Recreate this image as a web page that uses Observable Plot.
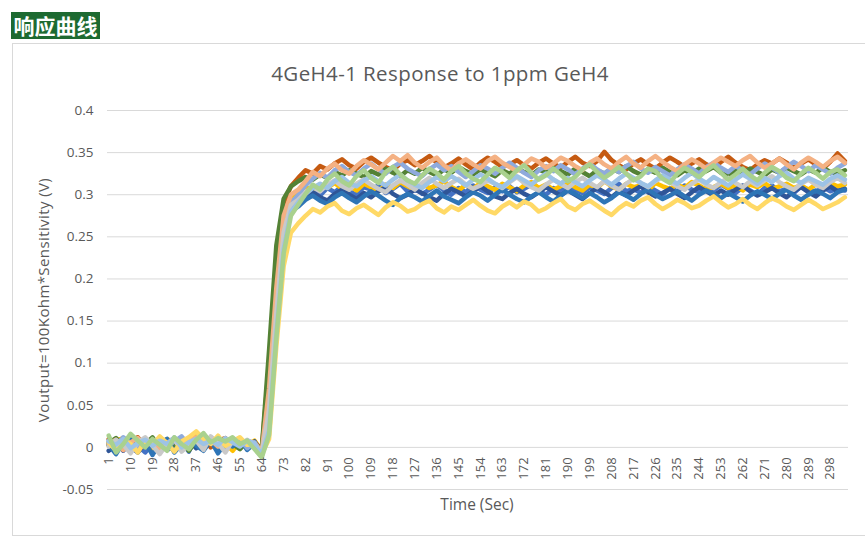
<!DOCTYPE html>
<html>
<head>
<meta charset="utf-8">
<script src="https://cdn.jsdelivr.net/npm/d3@7"></script>
<script src="https://cdn.jsdelivr.net/npm/@observablehq/plot@0.6"></script>
<style>
  html, body { margin: 0; padding: 0; background: #fff; }
  #wrap { position: relative; width: 865px; height: 538px; overflow: hidden; font-family: "Open Sans", "Noto Sans", sans-serif; }
  #tag { position: absolute; left: 11px; top: 12px; width: 89px; height: 27px; background: #1d6a31; color: #fff;
         font-family: "Noto Sans CJK SC", sans-serif; font-weight: bold; font-size: 21px; line-height: 27px; text-align: center; }
  #frame { position: absolute; left: 12px; top: 43px; width: 880px; height: 493px; border: 1px solid #d9d9d9; box-sizing: border-box; }
  #chart { position: absolute; left: 0; top: 0; }
  #title { position: absolute; left: 0; width: 880px; top: 59px; text-align: center; font-size: 20.5px; letter-spacing: 0.4px; color: #595959; line-height: 28px; }
  #ylab { position: absolute; left: 43px; top: 300px; transform: translate(-50%, -50%) rotate(-90deg); white-space: nowrap; font-size: 15px; letter-spacing: 0.4px; color: #595959; }
  #xlab { position: absolute; left: 377px; width: 200px; top: 494px; text-align: center; font-size: 15.5px; color: #595959; line-height: 20px; }
  #err { position: absolute; left: 300px; top: 20px; color: red; font-size: 14px; }
</style>
</head>
<body>
<div id="wrap">
  <div id="frame"></div>
  <div id="chart"></div>
  <div id="tag">响应曲线</div>
  <div id="title">4GeH4-1 Response to 1ppm GeH4</div>
  <div id="ylab">Voutput=100Kohm*Sensitivity (V)</div>
  <div id="xlab">Time (Sec)</div>
  <div id="err"></div>
</div>
<script>
// time (sec) of each sampled point
const times = [1,4,7,10,13,16,19,22,25,28,31,34,37,40,43,46,49,52,55,58,61,64,67,70,73,76,79,82,85,88,91,94,97,100,103,106,109,112,115,118,121,124,127,130,133,136,139,142,145,148,151,154,157,160,163,166,169,172,175,178,181,184,187,190,193,196,199,202,205,208,211,214,217,220,223,226,229,232,235,238,241,244,247,250,253,256,259,262,265,268,271,274,277,280,283,286,289,292,295,298,301,304];

const xTicks = [1,10,19,28,37,46,55,64,73,82,91,100,109,118,127,136,145,154,163,172,181,190,199,208,217,226,235,244,253,262,271,280,289,298];
const yTicks = [-0.05,0,0.05,0.1,0.15,0.2,0.25,0.3,0.35,0.4];

const seriesNames = ["S1","S2","S3","S4","S5","S6","S7","S8","S9","S10","S11","S12"];
const seriesColors = ["#4472c4","#ffc000","#c55a11","#2f5597","#548235","#2e75b6","#8faadc","#f4b183","#c9c9c9","#ffd966","#9dc3e6","#a9d18e"];

const s1 = [0.006,0.010,-0.004,0.008,0.002,-0.006,0.004,0.009,-0.003,0.001,0.007,-0.005,0.012,0.004,0.009,-0.002,0.006,0.010,0.000,0.005,0.003,
-0.007,0.060,0.180,0.262,0.290,
0.298,0.302,0.305,0.299,0.308,0.303,0.310,0.304,0.300,0.309,
0.306,0.311,0.302,0.307,0.313,0.304,0.309,0.301,0.306,0.312,
0.305,0.300,0.308,0.303,0.311,0.306,0.302,0.309,0.304,0.310,
0.303,0.307,0.312,0.305,0.300,0.308,0.304,0.311,0.306,0.302,
0.309,0.305,0.301,0.308,0.313,0.304,0.307,0.302,0.310,0.305,
0.300,0.308,0.304,0.311,0.306,0.303,0.309,0.305,0.312,0.307,
0.302,0.309,0.305,0.300,0.308,0.311,0.304,0.307,0.302,0.310,
0.306,0.303,0.309,0.304,0.308,0.305];

const s2 = [0.002,0.008,0.011,-0.002,0.005,0.009,-0.005,0.003,0.010,0.006,-0.003,0.004,0.015,0.009,0.002,0.011,0.005,-0.004,0.007,0.003,0.008,
-0.004,0.075,0.195,0.272,0.298,
0.304,0.309,0.306,0.312,0.308,0.314,0.307,0.311,0.305,0.313,
0.309,0.304,0.312,0.308,0.315,0.310,0.306,0.313,0.308,0.311,
0.316,0.309,0.305,0.312,0.307,0.314,0.310,0.306,0.313,0.309,
0.304,0.311,0.315,0.308,0.312,0.306,0.310,0.314,0.309,0.305,
0.312,0.308,0.316,0.310,0.306,0.313,0.309,0.311,0.305,0.314,
0.310,0.307,0.312,0.308,0.315,0.311,0.306,0.309,0.313,0.308,
0.311,0.305,0.312,0.309,0.314,0.307,0.310,0.313,0.308,0.311,
0.306,0.312,0.309,0.314,0.310,0.312];

const s3 = [0.010,0.004,-0.003,0.007,0.012,0.001,0.008,-0.004,0.005,0.011,0.002,0.009,0.006,0.013,0.000,0.008,0.011,0.003,0.009,0.004,0.006,
-0.003,0.100,0.225,0.290,0.310,
0.320,0.329,0.325,0.334,0.330,0.337,0.342,0.335,0.331,0.339,
0.344,0.338,0.333,0.329,0.337,0.341,0.335,0.340,0.346,0.338,
0.332,0.337,0.343,0.336,0.330,0.338,0.344,0.339,0.333,0.336,
0.341,0.335,0.331,0.338,0.343,0.337,0.332,0.339,0.345,0.338,
0.334,0.340,0.351,0.341,0.335,0.330,0.337,0.342,0.336,0.331,
0.338,0.344,0.339,0.333,0.337,0.342,0.336,0.332,0.339,0.345,
0.338,0.333,0.329,0.336,0.341,0.337,0.343,0.338,0.332,0.337,
0.342,0.336,0.331,0.339,0.349,0.340];

const s4 = [-0.004,0.003,0.008,0.001,-0.006,0.005,0.010,0.002,-0.002,0.007,0.003,0.009,-0.001,0.006,0.011,0.004,-0.003,0.008,0.005,0.001,0.007,
-0.008,0.055,0.170,0.255,0.285,
0.290,0.298,0.303,0.297,0.293,0.301,0.306,0.300,0.295,0.302,
0.297,0.304,0.309,0.301,0.296,0.300,0.306,0.302,0.297,0.293,
0.301,0.307,0.303,0.298,0.304,0.310,0.304,0.298,0.295,0.302,
0.307,0.301,0.297,0.303,0.309,0.304,0.299,0.305,0.300,0.295,
0.302,0.308,0.303,0.297,0.304,0.299,0.305,0.310,0.303,0.298,
0.302,0.307,0.301,0.296,0.303,0.309,0.304,0.299,0.305,0.300,
0.306,0.311,0.304,0.299,0.303,0.308,0.302,0.297,0.304,0.309,
0.303,0.298,0.305,0.310,0.304,0.307];

const s5 = [0.005,0.011,0.002,-0.003,0.009,0.004,0.012,-0.001,0.006,0.003,0.010,-0.004,0.008,0.014,0.005,0.001,0.009,0.004,-0.002,0.007,0.004,
-0.002,0.115,0.240,0.295,0.310,
0.316,0.321,0.318,0.324,0.320,0.327,0.323,0.329,0.325,0.321,
0.328,0.324,0.331,0.326,0.322,0.329,0.325,0.332,0.327,0.323,
0.330,0.326,0.333,0.328,0.324,0.330,0.326,0.322,0.329,0.325,
0.331,0.327,0.323,0.330,0.326,0.332,0.328,0.324,0.331,0.327,
0.322,0.329,0.325,0.331,0.327,0.334,0.328,0.324,0.330,0.326,
0.332,0.327,0.323,0.329,0.325,0.331,0.328,0.333,0.326,0.322,
0.329,0.325,0.331,0.327,0.323,0.330,0.326,0.332,0.328,0.324,
0.330,0.326,0.332,0.327,0.325,0.329];

const s6 = [0.003,-0.008,0.006,0.012,0.001,0.007,-0.009,0.005,0.010,-0.006,0.004,0.011,0.002,-0.004,0.008,-0.007,0.005,0.001,0.010,-0.003,0.005,
-0.010,0.040,0.155,0.245,0.280,
0.286,0.294,0.299,0.293,0.289,0.297,0.302,0.296,0.291,0.298,
0.304,0.299,0.293,0.288,0.296,0.301,0.297,0.292,0.299,0.305,
0.298,0.294,0.290,0.297,0.303,0.299,0.293,0.300,0.306,0.300,
0.295,0.291,0.298,0.303,0.297,0.292,0.299,0.305,0.301,0.296,
0.302,0.297,0.291,0.296,0.303,0.299,0.294,0.301,0.306,0.300,
0.295,0.299,0.304,0.298,0.293,0.300,0.305,0.301,0.296,0.302,
0.297,0.292,0.299,0.304,0.300,0.295,0.301,0.306,0.299,0.294,
0.300,0.305,0.301,0.296,0.303,0.306];

const s7 = [0.008,0.002,0.012,0.005,-0.002,0.009,0.004,0.011,0.001,0.007,0.013,0.003,0.009,0.006,0.012,0.002,0.008,0.005,0.010,-0.001,0.006,
-0.006,0.030,0.150,0.250,0.290,
0.300,0.311,0.319,0.326,0.320,0.329,0.334,0.327,0.323,0.331,
0.337,0.330,0.325,0.333,0.338,0.331,0.326,0.322,0.330,0.336,
0.329,0.334,0.327,0.321,0.328,0.335,0.331,0.325,0.332,0.338,
0.332,0.326,0.321,0.329,0.334,0.328,0.335,0.330,0.324,0.331,
0.337,0.330,0.325,0.332,0.327,0.334,0.339,0.331,0.326,0.333,
0.328,0.323,0.330,0.336,0.331,0.325,0.333,0.338,0.332,0.327,
0.334,0.329,0.324,0.331,0.337,0.332,0.326,0.333,0.339,0.334,
0.328,0.335,0.330,0.325,0.332,0.337];

const s8 = [0.004,0.009,-0.003,0.006,0.011,0.002,0.008,-0.002,0.005,0.010,0.003,0.007,0.012,0.004,0.009,0.001,0.006,0.011,0.003,0.008,0.005,
-0.005,0.070,0.190,0.275,0.300,
0.306,0.316,0.327,0.322,0.331,0.337,0.329,0.325,0.334,0.341,
0.336,0.330,0.338,0.346,0.340,0.347,0.338,0.332,0.339,0.344,
0.335,0.329,0.337,0.342,0.336,0.331,0.340,0.345,0.338,0.333,
0.328,0.336,0.343,0.339,0.332,0.337,0.344,0.340,0.334,0.329,
0.338,0.343,0.336,0.331,0.339,0.345,0.337,0.332,0.340,0.346,
0.339,0.333,0.328,0.336,0.342,0.337,0.331,0.338,0.344,0.339,
0.334,0.341,0.346,0.338,0.332,0.337,0.343,0.336,0.330,0.338,
0.344,0.339,0.333,0.340,0.345,0.338];

const s9 = [0.001,0.009,0.003,-0.007,0.006,0.012,0.002,-0.008,0.004,0.010,-0.005,0.003,0.008,-0.003,0.013,0.005,-0.006,0.008,0.002,0.009,0.003,
-0.007,0.045,0.160,0.255,0.288,
0.294,0.303,0.309,0.304,0.312,0.317,0.310,0.306,0.313,0.318,
0.312,0.307,0.303,0.311,0.317,0.312,0.306,0.314,0.320,0.313,
0.308,0.314,0.319,0.312,0.307,0.311,0.317,0.313,0.308,0.315,
0.321,0.314,0.309,0.305,0.312,0.318,0.313,0.308,0.315,0.320,
0.314,0.309,0.316,0.311,0.306,0.313,0.319,0.314,0.309,0.316,
0.321,0.315,0.310,0.306,0.313,0.318,0.312,0.308,0.315,0.320,
0.314,0.309,0.316,0.311,0.317,0.322,0.315,0.310,0.306,0.313,
0.318,0.312,0.308,0.315,0.320,0.314];

const s10 = [0.006,-0.004,0.009,0.004,-0.006,0.008,0.003,0.013,0.005,-0.005,0.007,0.012,0.019,0.010,0.004,0.014,0.002,0.007,0.012,0.003,0.004,
-0.008,0.010,0.120,0.215,0.255,
0.266,0.275,0.283,0.279,0.286,0.290,0.281,0.277,0.284,0.288,
0.282,0.276,0.285,0.291,0.287,0.280,0.283,0.289,0.293,0.284,
0.279,0.286,0.282,0.288,0.294,0.287,0.281,0.278,0.286,0.291,
0.285,0.292,0.288,0.280,0.284,0.290,0.295,0.286,0.282,0.289,
0.293,0.287,0.281,0.276,0.284,0.290,0.286,0.293,0.297,0.289,
0.283,0.288,0.294,0.290,0.284,0.287,0.293,0.298,0.291,0.285,
0.289,0.295,0.288,0.283,0.290,0.296,0.292,0.286,0.282,0.288,
0.294,0.289,0.283,0.287,0.291,0.297];

const s11 = [0.007,0.003,0.010,-0.001,0.005,0.009,0.002,0.008,0.004,0.012,0.000,0.006,0.010,0.004,0.008,0.003,0.011,0.006,0.001,0.008,0.005,
-0.009,0.020,0.135,0.235,0.280,
0.291,0.301,0.308,0.313,0.308,0.316,0.321,0.314,0.310,0.317,
0.322,0.316,0.311,0.318,0.324,0.317,0.312,0.308,0.315,0.321,
0.316,0.322,0.317,0.311,0.318,0.324,0.319,0.313,0.309,0.316,
0.322,0.317,0.312,0.319,0.325,0.318,0.313,0.320,0.315,0.310,
0.317,0.323,0.318,0.312,0.319,0.325,0.320,0.314,0.310,0.317,
0.323,0.318,0.313,0.320,0.326,0.319,0.314,0.321,0.316,0.311,
0.318,0.324,0.319,0.313,0.320,0.315,0.322,0.326,0.319,0.314,
0.320,0.316,0.312,0.319,0.323,0.318];

const s12 = [0.014,-0.006,0.004,0.016,0.008,0.000,0.010,0.003,-0.004,0.012,0.004,-0.002,0.009,0.017,0.006,0.011,0.007,0.012,0.004,0.008,-0.002,
-0.012,0.015,0.130,0.230,0.275,
0.288,0.301,0.312,0.306,0.318,0.325,0.316,0.311,0.322,0.329,
0.320,0.314,0.327,0.333,0.324,0.317,0.313,0.323,0.331,0.326,
0.318,0.328,0.334,0.325,0.319,0.315,0.324,0.332,0.327,0.320,
0.329,0.335,0.326,0.318,0.323,0.331,0.324,0.316,0.321,0.330,
0.336,0.327,0.320,0.326,0.333,0.325,0.317,0.322,0.331,0.328,
0.319,0.314,0.325,0.332,0.327,0.321,0.329,0.335,0.326,0.318,
0.324,0.331,0.323,0.317,0.326,0.333,0.328,0.320,0.316,0.325,
0.332,0.326,0.319,0.327,0.330,0.323];

const seriesValues = [s1,s2,s3,s4,s5,s6,s7,s8,s9,s10,s11,s12];

const bad = seriesValues.map((v, i) => v.length !== times.length ? `${seriesNames[i]}:${v.length}` : null).filter(d => d);
if (bad.length) document.getElementById("err").textContent = "len " + times.length + " " + bad.join(" ");

const rows = seriesValues.flatMap((vals, k) => vals.map((v, i) => ({t: times[i], v, s: seriesNames[k]})));

const chart = Plot.plot({
  width: 865,
  height: 538,
  marginLeft: 107,
  marginRight: 17,
  marginTop: 110,
  marginBottom: 49,
  style: {fontFamily: "'Open Sans', 'Noto Sans', sans-serif", fontSize: "13px", color: "#595959", background: "transparent"},
  x: {domain: [0.5, 305.5], axis: null},
  y: {domain: [-0.05, 0.4], axis: null},
  color: {domain: seriesNames, range: seriesColors},
  marks: [
    Plot.gridY(yTicks, {stroke: "#d9d9d9", strokeOpacity: 1, strokeWidth: 1}),
    Plot.axisY(yTicks, {tickSize: 0, tickPadding: 14, label: null, tickFormat: d => String(+d.toFixed(2)), fontSize: 13.5}),
    Plot.line(rows, {x: "t", y: "v", z: "s", stroke: "s", strokeWidth: 4.5, strokeLinejoin: "round", strokeLinecap: "round"}),
    Plot.text(xTicks, {x: d => d, y: d => 0, text: d => String(d), rotate: -90, textAnchor: "end", dy: 10, fill: "#595959", fontSize: 13})
  ]
});
document.getElementById("chart").appendChild(chart);
</script>
</body>
</html>
